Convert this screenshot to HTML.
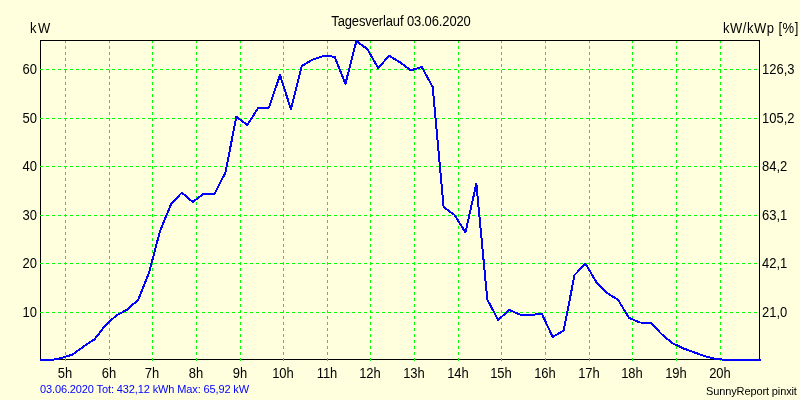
<!DOCTYPE html>
<html><head><meta charset="utf-8"><style>
html,body{margin:0;padding:0;}
body{width:800px;height:400px;background:#FFFFDE;position:relative;overflow:hidden;font-family:"Liberation Sans",sans-serif;color:#000;}
.t{position:absolute;white-space:pre;line-height:13px;height:13px;will-change:transform;}
.big{font-size:13px;transform:scaleY(1.11);transform-origin:0 0;}
.small{font-size:11px;}
.foot{color:#0000FF;}
svg{position:absolute;left:0;top:0;}
</style></head><body>
<svg width="800" height="400" viewBox="0 0 800 400">
<rect x="40.5" y="40.5" width="719" height="319" fill="none" stroke="#000" stroke-width="1" shape-rendering="crispEdges"/>
<g stroke="#00FF00" stroke-width="1" stroke-dasharray="3 3" shape-rendering="crispEdges">
<line x1="65.5" y1="361" x2="65.5" y2="41"/><line x1="109.5" y1="361" x2="109.5" y2="41"/><line x1="152.5" y1="361" x2="152.5" y2="41"/><line x1="196.5" y1="361" x2="196.5" y2="41"/><line x1="240.5" y1="361" x2="240.5" y2="41"/><line x1="283.5" y1="361" x2="283.5" y2="41"/><line x1="327.5" y1="361" x2="327.5" y2="41"/><line x1="370.5" y1="361" x2="370.5" y2="41"/><line x1="414.5" y1="361" x2="414.5" y2="41"/><line x1="458.5" y1="361" x2="458.5" y2="41"/><line x1="501.5" y1="361" x2="501.5" y2="41"/><line x1="545.5" y1="361" x2="545.5" y2="41"/><line x1="589.5" y1="361" x2="589.5" y2="41"/><line x1="632.5" y1="361" x2="632.5" y2="41"/><line x1="676.5" y1="361" x2="676.5" y2="41"/><line x1="720.5" y1="361" x2="720.5" y2="41"/><line x1="40" y1="69.5" x2="759" y2="69.5"/><line x1="40" y1="118.5" x2="759" y2="118.5"/><line x1="40" y1="166.5" x2="759" y2="166.5"/><line x1="40" y1="215.5" x2="759" y2="215.5"/><line x1="40" y1="263.5" x2="759" y2="263.5"/><line x1="40" y1="312.5" x2="759" y2="312.5"/>
</g>
<polyline points="40.00,360 50.91,360 61.82,358 72.73,354.4 83.64,346.5 94.55,339.3 105.45,325.2 116.36,315.5 127.27,309.5 138.18,299.8 149.09,272.5 160.00,231 170.91,204.5 181.82,192.6 192.73,202 203.64,193.8 214.55,193.8 225.45,172.5 236.36,116.7 247.27,125 258.18,108 269.09,107.5 280.00,75 290.91,109.3 301.82,66 312.73,59.6 323.64,56 334.55,56.7 345.45,83.7 356.36,41.2 367.27,49 378.18,68 389.09,55.8 400.00,62.3 410.91,70.3 421.82,67 432.73,87 443.64,207 454.55,215 465.45,232.4 476.36,183.7 487.27,299.5 498.18,320 509.09,310 520.00,314.5 530.91,315 541.82,313.8 552.73,337 563.64,330.5 574.55,275 585.45,263.75 596.36,282 607.27,293 618.18,300 629.09,318 640.00,322.5 650.91,322.8 661.82,334.4 672.73,343.3 683.64,348.5 694.55,352.5 705.45,356.3 716.36,359 727.27,360 738.18,360 749.09,360 760.00,360 761,360" fill="none" stroke="#0000FF" stroke-width="2" stroke-linejoin="round" stroke-linecap="butt" shape-rendering="crispEdges"/>
</svg>
<div class="t big" style="top:14px;left:1px;width:800px;text-align:center;letter-spacing:-0.13px;">Tagesverlauf 03.06.2020</div>
<div class="t big" style="top:21px;left:30px;letter-spacing:1.5px;">kW</div>
<div class="t big" style="top:21px;left:723px;letter-spacing:0.5px;">kW/kWp [%]</div>
<div class="t big" style="top:62px;left:0px;width:37px;text-align:right;">60</div>
<div class="t big" style="top:111px;left:0px;width:37px;text-align:right;">50</div>
<div class="t big" style="top:159px;left:0px;width:37px;text-align:right;">40</div>
<div class="t big" style="top:208px;left:0px;width:37px;text-align:right;">30</div>
<div class="t big" style="top:256px;left:0px;width:37px;text-align:right;">20</div>
<div class="t big" style="top:305px;left:0px;width:37px;text-align:right;">10</div>
<div class="t big" style="top:62px;left:762px;">126,3</div>
<div class="t big" style="top:111px;left:762px;">105,2</div>
<div class="t big" style="top:159px;left:762px;">84,2</div>
<div class="t big" style="top:208px;left:762px;">63,1</div>
<div class="t big" style="top:256px;left:762px;">42,1</div>
<div class="t big" style="top:305px;left:762px;">21,0</div>
<div class="t big" style="top:366px;left:45px;width:40px;text-align:center;">5h</div>
<div class="t big" style="top:366px;left:89px;width:40px;text-align:center;">6h</div>
<div class="t big" style="top:366px;left:132px;width:40px;text-align:center;">7h</div>
<div class="t big" style="top:366px;left:176px;width:40px;text-align:center;">8h</div>
<div class="t big" style="top:366px;left:220px;width:40px;text-align:center;">9h</div>
<div class="t big" style="top:366px;left:263px;width:40px;text-align:center;">10h</div>
<div class="t big" style="top:366px;left:307px;width:40px;text-align:center;">11h</div>
<div class="t big" style="top:366px;left:350px;width:40px;text-align:center;">12h</div>
<div class="t big" style="top:366px;left:394px;width:40px;text-align:center;">13h</div>
<div class="t big" style="top:366px;left:438px;width:40px;text-align:center;">14h</div>
<div class="t big" style="top:366px;left:481px;width:40px;text-align:center;">15h</div>
<div class="t big" style="top:366px;left:525px;width:40px;text-align:center;">16h</div>
<div class="t big" style="top:366px;left:569px;width:40px;text-align:center;">17h</div>
<div class="t big" style="top:366px;left:612px;width:40px;text-align:center;">18h</div>
<div class="t big" style="top:366px;left:656px;width:40px;text-align:center;">19h</div>
<div class="t big" style="top:366px;left:700px;width:40px;text-align:center;">20h</div>
<div class="t small foot" style="top:383px;left:40px;letter-spacing:-0.12px;">03.06.2020 Tot: 432,12 kWh Max: 65,92 kW</div>
<div class="t small" style="top:385px;left:706px;letter-spacing:-0.12px;">SunnyReport pinxit</div>
</body></html>
